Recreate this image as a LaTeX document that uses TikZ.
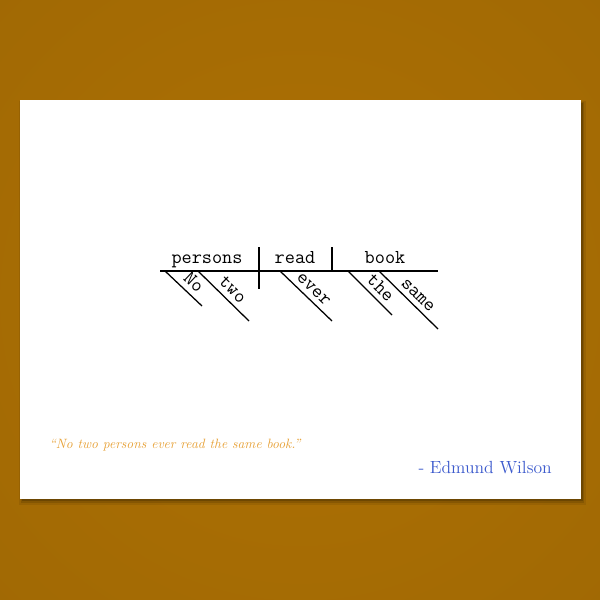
\documentclass[tikz,border=0pt]{standalone}
\usepackage{fontspec}
\definecolor{bgdark}{RGB}{156,102,4}
\definecolor{bglight}{RGB}{174,113,4}
\definecolor{quotecol}{RGB}{232,163,58}
\definecolor{authcol}{RGB}{60,90,205}
\begin{document}
\begin{tikzpicture}[x=0.025cm,y=-0.025cm,
  ln/.style={line width=0.9pt, black},
  word/.style={font=\ttfamily\fontsize{14}{14}\selectfont, anchor=base, inner sep=0pt},
  mod/.style={font=\ttfamily\fontsize{14}{14}\selectfont, sloped, above, inner sep=3.5pt}]
\useasboundingbox (0,0) rectangle (600,600);
\fill[bgdark] (0,0) rectangle (600,600);
\begin{scope}
  \clip (0,0) rectangle (600,600);
  \shade[inner color=bglight, outer color=bgdark] (300,300) circle (15cm);
\end{scope}
% card shadow
\fill[black, opacity=0.08] (19,101) rectangle (586,505);
\fill[black, opacity=0.12] (21,102) rectangle (584,503);
\fill[black, opacity=0.18] (22,103) rectangle (583,501);
\fill[white] (20,100) rectangle (581,499);
% baseline and dividers
\coordinate (bl) at (160,271);
\coordinate (br) at (438,271);
\coordinate (d1t) at (259,247);
\coordinate (d1b) at (259,289);
\coordinate (d2t) at (332,247);
\coordinate (d2b) at (332,271);
\draw[ln] (bl) -- (br);
\draw[ln] (d1t) -- (d1b);
\draw[ln] (d2t) -- (d2b);
\node[word] (persons) at (207,263) {persons};
\node[word] (read) at (295,263) {read};
\node[word] (book) at (385,263) {book};
% modifiers
\coordinate (noA) at (165,271);  \coordinate (noB) at (202,306);
\coordinate (twoA) at (198,271); \coordinate (twoB) at (249,321);
\coordinate (evA) at (280,271);  \coordinate (evB) at (332,321);
\coordinate (thA) at (348,271);  \coordinate (thB) at (392,315);
\coordinate (saA) at (379,271);  \coordinate (saB) at (438,329);
\draw[ln] (noA) -- node[mod, pos=0.57] (no) {No} (noB);
\draw[ln] (twoA) -- node[mod, pos=0.53] (two) {two} (twoB);
\draw[ln] (evA) -- node[mod, pos=0.51] (ever) {ever} (evB);
\draw[ln] (thA) -- node[mod, pos=0.56] (the) {the} (thB);
\draw[ln] (saA) -- node[mod, pos=0.54] (same) {same} (saB);
% quote and author
\node[anchor=base west, inner sep=0pt, text=quotecol, font=\itshape\fontsize{9.6}{9.6}\selectfont] (quote) at (49,448) {“No two persons ever read the same book.”};
\node[anchor=base east, inner sep=0pt, text=authcol, font=\fontsize{12.5}{12.5}\selectfont] (author) at (552,473) {- Edmund Wilson};
\end{tikzpicture}
\end{document}
